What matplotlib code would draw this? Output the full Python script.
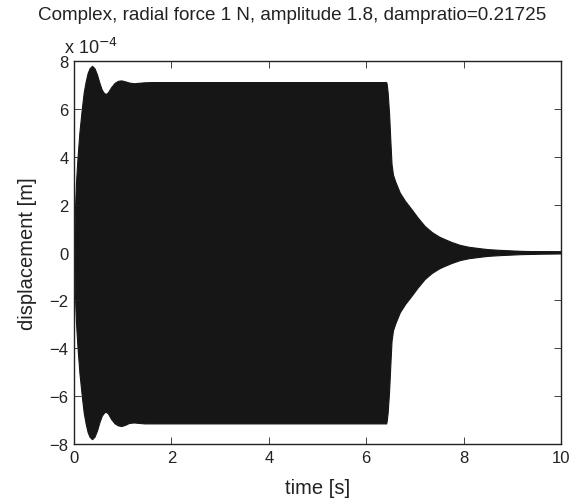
import matplotlib
matplotlib.use("Agg")
import matplotlib.pyplot as plt
import numpy as np

# Envelope of the displacement signal (units of 1e-4 m)
t_env = [0.0, 0.01, 0.02, 0.04, 0.07, 0.11, 0.16, 0.20, 0.24, 0.28, 0.32, 0.37,
         0.42, 0.47, 0.52, 0.57, 0.62, 0.66, 0.70, 0.76, 0.83, 0.90, 0.97, 1.05,
         1.13, 1.23, 1.33, 1.45, 1.60, 2.00, 4.00, 6.41, 6.42, 6.44, 6.47, 6.50,
         6.52, 6.55, 6.60, 6.69, 6.80, 6.93, 7.05, 7.20, 7.35, 7.50, 7.61, 7.75,
         7.92, 8.10, 8.33, 8.50, 8.74, 9.16, 9.60, 10.0]
upper = [0.0, 1.0, 1.8, 2.9, 3.9, 5.0, 6.0, 6.7, 7.15, 7.5, 7.7, 7.8,
         7.7, 7.45, 7.1, 6.8, 6.65, 6.63, 6.7, 6.9, 7.08, 7.17, 7.19, 7.15,
         7.1, 7.07, 7.09, 7.11, 7.12, 7.12, 7.12, 7.12, 7.05, 6.7, 5.8, 4.5,
         3.7, 3.25, 2.95, 2.5, 2.15, 1.81, 1.48, 1.11, 0.85, 0.66, 0.56, 0.44,
         0.32, 0.24, 0.18, 0.14, 0.11, 0.07, 0.05, 0.04]
lower = [0.0, -1.0, -1.8, -2.9, -3.9, -5.0, -6.0, -6.7, -7.15, -7.5, -7.7, -7.8,
         -7.7, -7.45, -7.1, -6.82, -6.68, -6.66, -6.73, -6.95, -7.13, -7.22, -7.25, -7.2,
         -7.12, -7.1, -7.12, -7.14, -7.14, -7.14, -7.14, -7.14, -7.05, -6.7, -5.8, -4.5,
         -3.7, -3.25, -2.95, -2.5, -2.15, -1.81, -1.48, -1.11, -0.85, -0.66, -0.56, -0.44,
         -0.32, -0.24, -0.18, -0.14, -0.11, -0.07, -0.05, -0.04]

xticks = [0, 2, 4, 6, 8, 10]
yticks = [-8, -6, -4, -2, 0, 2, 4, 6, 8]

plt.rcParams['font.family'] = ['Liberation Sans', 'DejaVu Sans']

fig = plt.figure(figsize=(5.83, 5.02), dpi=100)
ax = fig.add_axes([74/583, 1-445/502, (561-74)/583, (445-62)/502])

col = '#161616'
t = np.array(t_env)
up = np.array(upper) * 1e-4
lo = np.array(lower) * 1e-4
ax.fill_between(t, lo, up, color=col, linewidth=0.8, edgecolor=col)
ax.plot(t, (up + lo) / 2, color=col, linewidth=2.0)

ax.set_xlim(0, 10)
ax.set_ylim(-8e-4, 8e-4)
ax.set_xticks(xticks)
ax.set_yticks([v * 1e-4 for v in yticks])
ax.set_xticklabels([str(v) for v in xticks])
ax.set_yticklabels([('\u2212' + str(-v)) if v < 0 else str(v) for v in yticks])
ax.tick_params(direction='in', length=5, width=0.6, top=True, right=True,
               labelsize=12, colors='#222222', pad=4)
for s in ax.spines.values():
    s.set_linewidth(1.0)
    s.set_color('#222222')

ax.set_xlabel('time [s]', fontsize=14.5, color='#222222', labelpad=10)
ax.set_ylabel('displacement [m]', fontsize=14.5, color='#222222', labelpad=9)
fig.text(292/583, 1 - 16/502, 'Complex, radial force 1 N, amplitude 1.8, dampratio=0.21725',
         fontsize=13.6, color='#222222', ha='center', va='center')
ax.text(-10/487, 1.01, r'x 10$^{-4}$', transform=ax.transAxes, fontsize=13,
        color='#222222', ha='left', va='bottom')

fig.savefig('out.png', dpi=100)
